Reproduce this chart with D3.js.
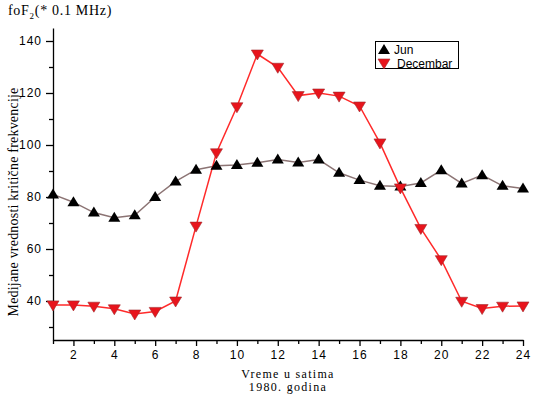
<!DOCTYPE html>
<html>
<head>
<meta charset="utf-8">
<script src="https://cdn.jsdelivr.net/npm/d3@7"></script>
<style>
  body { margin: 0; background: #fff; }
  svg { display: block; }
  .tick text { font-family: "Liberation Sans", Arial, sans-serif; font-size: 12px; letter-spacing: 1px; }
  .serif { font-family: "Liberation Serif", "Times New Roman", serif; }
</style>
</head>
<body>
<svg width="534" height="399"></svg>
<script>
var hours = d3.range(1, 25);
var jun = [81, 78, 74, 72, 73, 80, 86, 90.5, 92, 92.3, 93.2, 94.4, 93.3, 94.4, 89.3, 86.5, 84.3, 84, 85.4, 90.3, 85.2, 88.4, 84.3, 83.3];
var decembar = [38.5, 38.5, 38, 37, 35, 36, 40, 68.8, 97, 114.7, 135, 129.9, 119, 120, 118.8, 115, 100.8, 83.5, 67.9, 55.9, 39.9, 37.1, 38, 38.1];
var xTicks = [2, 4, 6, 8, 10, 12, 14, 16, 18, 20, 22, 24];
var yTicks = [40, 60, 80, 100, 120, 140];

var svg = d3.select('svg');

var x = d3.scaleLinear().domain([1, 24]).range([53, 523]);
var y = d3.scaleLinear().domain([25, 145]).range([340, 28]);

// axes
var xAxis = svg.append('g')
  .attr('transform', 'translate(0,340)')
  .call(d3.axisBottom(x).tickValues(hours).tickSize(5).tickSizeOuter(0)
    .tickFormat(function(d) { return xTicks.indexOf(d) >= 0 ? d : ''; }));
xAxis.selectAll('.tick text').attr('dy', '0.9em');
xAxis.selectAll('.tick line').attr('y2', function(d) { return d % 2 == 0 ? 6 : 4; });

var yAxis = svg.append('g')
  .attr('transform', 'translate(53,0)')
  .call(d3.axisLeft(y).tickValues(d3.range(30, 145, 10)).tickSize(7).tickSizeOuter(0)
    .tickFormat(function(d) { return yTicks.indexOf(d) >= 0 ? d : ''; }));
yAxis.selectAll('.tick line').attr('x2', function(d) { return d % 20 == 0 ? -7 : -4; });
yAxis.selectAll('.tick text').attr('x', -11);

svg.selectAll('.domain').attr('stroke', '#000').attr('stroke-width', 1.3);
svg.selectAll('.tick line').attr('stroke', '#000').attr('stroke-width', 1.3);

// lines
var line = d3.line()
  .x(function(d, i) { return x(hours[i]); })
  .y(function(d) { return y(d); });

svg.append('path')
  .attr('d', line(jun))
  .attr('fill', 'none')
  .attr('stroke', '#8c7474')
  .attr('stroke-width', 1.5);

svg.append('path')
  .attr('d', line(decembar))
  .attr('fill', 'none')
  .attr('stroke', '#ff2a2a')
  .attr('stroke-width', 1.5);

// markers
var up = 'M0,-6L6,4L-6,4Z';
var down = 'M0,6L6,-4L-6,-4Z';

svg.selectAll('.jun').data(jun).enter().append('path')
  .attr('class', 'jun')
  .attr('d', up)
  .attr('transform', function(d, i) { return 'translate(' + x(hours[i]) + ',' + y(d) + ')'; })
  .attr('fill', '#000');

svg.selectAll('.dec').data(decembar).enter().append('path')
  .attr('class', 'dec')
  .attr('d', down)
  .attr('transform', function(d, i) { return 'translate(' + x(hours[i]) + ',' + y(d) + ')'; })
  .attr('fill', '#e8141c')
  .attr('stroke', '#a0282c')
  .attr('stroke-width', 0.6);

// legend
var lg = svg.append('g');
lg.append('rect')
  .attr('x', 375.5).attr('y', 41.5).attr('width', 83).attr('height', 27)
  .attr('fill', '#fff').attr('stroke', '#000').attr('stroke-width', 1);
lg.append('path').attr('d', up).attr('transform', 'translate(384,50)').attr('fill', '#000');
lg.append('path').attr('d', down).attr('transform', 'translate(384,63)')
  .attr('fill', '#e8141c').attr('stroke', '#a0282c').attr('stroke-width', 0.6);
lg.append('text').attr('x', 394).attr('y', 54)
  .style('font-family', '"Liberation Sans", Arial, sans-serif').style('font-size', '12px').text('Jun');
lg.append('text').attr('x', 397).attr('y', 68)
  .style('font-family', '"Liberation Sans", Arial, sans-serif').style('font-size', '12px').text('Decembar');

// titles
var t = svg.append('text').attr('class', 'serif').attr('x', 8).attr('y', 15)
  .style('font-size', '14px').style('letter-spacing', '0.7px');
t.append('tspan').text('foF');
t.append('tspan').attr('dy', 4).style('font-size', '9px').text('2');
t.append('tspan').attr('dy', -4).text('(* 0.1 MHz)');

svg.append('text').attr('class', 'serif')
  .attr('transform', 'translate(18,202) rotate(-90)')
  .attr('text-anchor', 'middle')
  .style('font-size', '14px').style('letter-spacing', '0.2px')
  .text('Medijane vrednosti kritične frekvencije');

svg.append('text').attr('class', 'serif')
  .attr('x', 288).attr('y', 378).attr('text-anchor', 'middle')
  .style('font-size', '12px').style('letter-spacing', '1.3px')
  .text('Vreme u satima');
svg.append('text').attr('class', 'serif')
  .attr('x', 288).attr('y', 391).attr('text-anchor', 'middle')
  .style('font-size', '12px').style('letter-spacing', '1.3px')
  .text('1980. godina');
</script>
</body>
</html>
